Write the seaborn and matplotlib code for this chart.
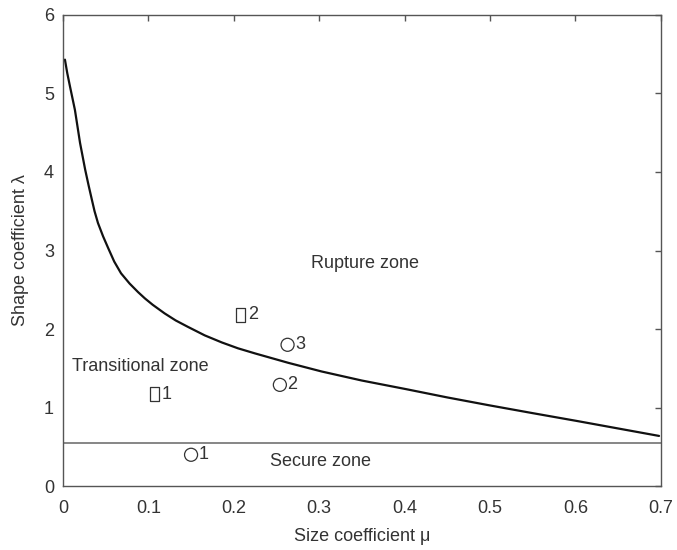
import matplotlib
matplotlib.use("Agg")
import matplotlib.pyplot as plt
import seaborn as sns
import pandas as pd

# boundary curve between transitional and rupture zones
curve_mu = [0.0023, 0.005, 0.0082, 0.014, 0.020, 0.026, 0.030, 0.034, 0.037, 0.041,
            0.047, 0.053, 0.060, 0.068, 0.078, 0.088, 0.096, 0.105, 0.119, 0.132,
            0.146, 0.166, 0.186, 0.205, 0.225, 0.264, 0.303, 0.35, 0.402, 0.45,
            0.499, 0.55, 0.602, 0.65, 0.698]
curve_lam = [5.43, 5.26, 5.09, 4.79, 4.37, 4.03, 3.83, 3.64, 3.50, 3.35,
             3.18, 3.03, 2.86, 2.71, 2.58, 2.47, 2.39, 2.31, 2.20, 2.11,
             2.03, 1.92, 1.83, 1.755, 1.69, 1.57, 1.46, 1.345, 1.235, 1.13,
             1.03, 0.93, 0.83, 0.735, 0.64]

secure_lam = 0.55

circle_mu = [0.150, 0.254, 0.263]
circle_lam = [0.40, 1.29, 1.80]
circle_labels = ["1", "2", "3"]

square_mu = [0.107, 0.208]
square_lam = [1.17, 2.18]
square_labels = ["1", "2"]

zone_names = ["Rupture zone", "Transitional zone", "Secure zone"]
zone_mu = [0.29, 0.010, 0.242]
zone_lam = [2.84, 1.52, 0.31]

xticks = [0, 0.1, 0.2, 0.3, 0.4, 0.5, 0.6, 0.7]
yticks = [0, 1, 2, 3, 4, 5, 6]

sns.set_theme(style="white")
plt.rcParams["font.family"] = ["Liberation Sans", "DejaVu Sans"]
txt = "#333333"
plt.rcParams["text.color"] = txt
plt.rcParams["axes.labelcolor"] = txt
plt.rcParams["xtick.color"] = "#555555"
plt.rcParams["ytick.color"] = "#555555"
plt.rcParams["xtick.labelcolor"] = txt
plt.rcParams["ytick.labelcolor"] = txt

fig = plt.figure(figsize=(6.77, 5.5), dpi=100)
ax = fig.add_axes([0.093, 0.116, 0.883, 0.857])

curve_df = pd.DataFrame({"mu": curve_mu, "lam": curve_lam})
sns.lineplot(data=curve_df, x="mu", y="lam", ax=ax, color="#111111",
             linewidth=1.6, sort=False)
ax.axhline(secure_lam, color="#666666", linewidth=1.1)

circ_df = pd.DataFrame({"mu": circle_mu, "lam": circle_lam})
sns.scatterplot(data=circ_df, x="mu", y="lam", ax=ax, marker="o", s=88,
                facecolors="none", edgecolor="#333333", linewidth=0.9)
rect = [(-0.62, -1), (0.62, -1), (0.62, 1), (-0.62, 1), (-0.62, -1)]
sq_df = pd.DataFrame({"mu": square_mu, "lam": square_lam})
sns.scatterplot(data=sq_df, x="mu", y="lam", ax=ax, marker=rect, s=100,
                facecolors="none", edgecolor="#333333", linewidth=0.9)

for m, l, t in zip(circle_mu + square_mu, circle_lam + square_lam,
                   circle_labels + square_labels):
    ax.annotate(t, (m, l), xytext=(5.5, 0), textcoords="offset points",
                ha="left", va="center", fontsize=13, color=txt)

for name, m, l in zip(zone_names, zone_mu, zone_lam):
    ax.text(m, l, name, ha="left", va="center", fontsize=13, color=txt)

ax.set_xlim(0, 0.7)
ax.set_ylim(0, 6)
ax.set_xticks(xticks)
ax.set_xticklabels([f"{v:g}" for v in xticks])
ax.set_yticks(yticks)
ax.tick_params(direction="in", top=True, right=True, length=4, width=1,
               labelsize=13)
ax.tick_params(axis="x", pad=10)
ax.tick_params(axis="y", pad=6.5)
for s in ax.spines.values():
    s.set_color("#555555")
    s.set_linewidth(1.0)
ax.set_xlabel("Size coefficient \u03bc", fontsize=13, labelpad=8)
ax.set_ylabel("Shape coefficient \u03bb", fontsize=13, labelpad=11)

fig.savefig("out.png", dpi=100)
